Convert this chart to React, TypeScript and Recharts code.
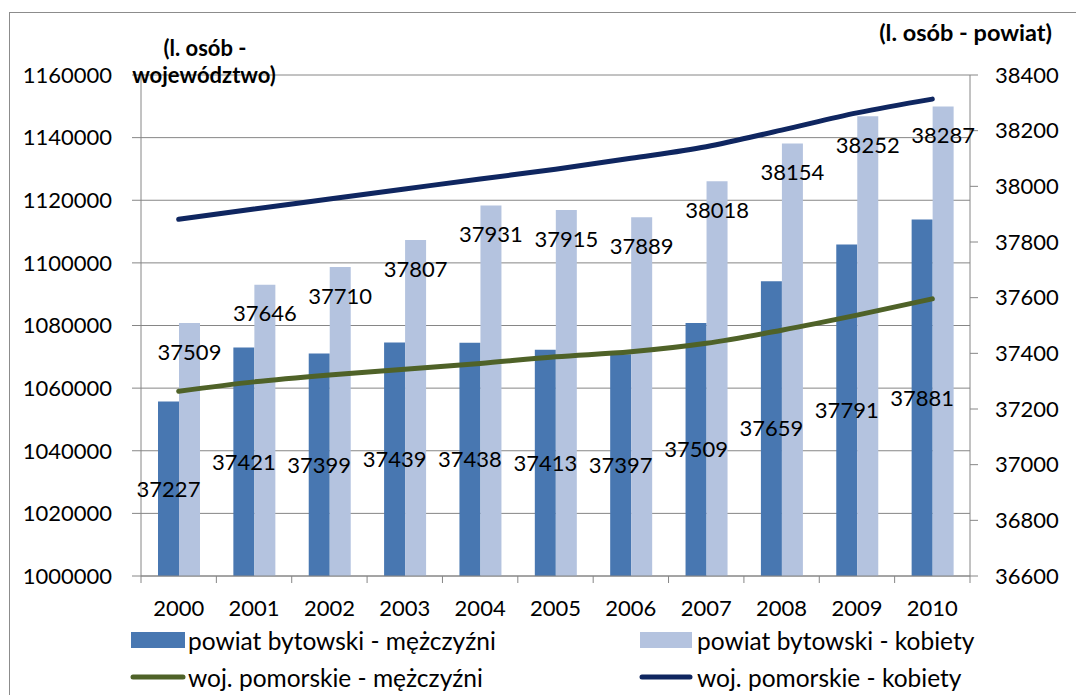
import React from "react";
import {
  Bar,
  CartesianGrid,
  ComposedChart,
  LabelList,
  Line,
  XAxis,
  YAxis,
} from "recharts";

const years = ["2000", "2001", "2002", "2003", "2004", "2005", "2006", "2007", "2008", "2009", "2010"];
// powiat bytowski (right axis)
const powiatMen = [37227, 37421, 37399, 37439, 37438, 37413, 37397, 37509, 37659, 37791, 37881];
const powiatWomen = [37509, 37646, 37710, 37807, 37931, 37915, 37889, 38018, 38154, 38252, 38287];
// woj. pomorskie (left axis)
const wojMen = [1059000, 1062000, 1064200, 1066000, 1067900, 1070000, 1071600, 1074300, 1078500, 1083300, 1088500];
const wojWomen = [1113900, 1117200, 1120400, 1123600, 1126800, 1129900, 1133400, 1137100, 1142400, 1147900, 1152300];

const leftTicks = [1000000, 1020000, 1040000, 1060000, 1080000, 1100000, 1120000, 1140000, 1160000];
const rightTicks = [36600, 36800, 37000, 37200, 37400, 37600, 37800, 38000, 38200, 38400];

const data = years.map((year, i) => ({
  year,
  pm: powiatMen[i],
  pk: powiatWomen[i],
  wm: wojMen[i],
  wk: wojWomen[i],
}));

const FONT = "Lato, 'Open Sans', sans-serif";
const GRID = "#868686";
const MEN_BAR = "#4877b1";
const WOMEN_BAR = "#b4c3df";
const MEN_LINE = "#4f6228";
const WOMEN_LINE = "#0f2660";

const W = 1076;
const H = 695;

const YearTick = (props: any) => {
  const { x, y, payload, index, visibleTicksCount } = props;
  const half = payload && payload.offset ? payload.offset : 37.7;
  const isLast = index === visibleTicksCount - 1;
  return (
    <g>
      <line x1={x - half} x2={x - half} y1={y} y2={y + 7} stroke={GRID} />
      {isLast && <line x1={x + half} x2={x + half} y1={y} y2={y + 7} stroke={GRID} />}
      <text x={x} y={y + 40} textAnchor="middle" fill="#000" fontSize={22} fontFamily={FONT}>
        {payload.value}
      </text>
    </g>
  );
};

export default function App() {
  return (
    <div
      style={{
        position: "fixed",
        left: 0,
        top: 0,
        width: W,
        height: H,
        overflow: "hidden",
        background: "#fff",
      }}
    >
      <div
        style={{
          position: "absolute",
          left: 9,
          top: 12,
          width: 1200,
          height: 800,
          borderLeft: "1px solid #8c8c8c",
          borderTop: "1px solid #8c8c8c",
        }}
      />
      <div style={{ position: "absolute", left: 0, top: 0 }}>
        <ComposedChart
          width={W}
          height={H}
          data={data}
          margin={{ top: 75, right: 0, left: 0, bottom: 79 }}
          barGap={0}
          barSize={21}
        >
          <CartesianGrid yAxisId="left" vertical={false} stroke={GRID} />
          <XAxis
            dataKey="year"
            height={40}
            tickSize={0}
            tickMargin={0}
            tickLine={false}
            axisLine={{ stroke: GRID }}
            tick={<YearTick />}
            interval={0}
          />
          <YAxis
            yAxisId="left"
            orientation="left"
            width={141}
            domain={[1000000, 1160000]}
            ticks={leftTicks}
            interval={0}
            tickSize={9}
            tickMargin={20}
            axisLine={{ stroke: GRID }}
            tickLine={{ stroke: GRID }}
            tick={{ fill: "#000", fontSize: 22, fontFamily: FONT }}
          />
          <YAxis
            yAxisId="right"
            orientation="right"
            width={106}
            domain={[36600, 38400]}
            ticks={rightTicks}
            interval={0}
            tickSize={8}
            tickMargin={17}
            axisLine={{ stroke: GRID }}
            tickLine={{ stroke: GRID }}
            tick={{ fill: "#000", fontSize: 22, fontFamily: FONT }}
          />
          <Bar yAxisId="right" dataKey="pm" fill={MEN_BAR} isAnimationActive={false}>
            <LabelList
              dataKey="pm"
              position="center"
              fill="#000"
              fontSize={22}
              fontFamily={FONT}
            />
          </Bar>
          <Bar yAxisId="right" dataKey="pk" fill={WOMEN_BAR} isAnimationActive={false}>
            <LabelList
              dataKey="pk"
              position="insideTop"
              offset={21}
              fill="#000"
              fontSize={22}
              fontFamily={FONT}
            />
          </Bar>
          <Line
            yAxisId="left"
            type="monotone"
            dataKey="wm"
            stroke={MEN_LINE}
            strokeWidth={5}
            strokeLinecap="round"
            dot={false}
            isAnimationActive={false}
          />
          <Line
            yAxisId="left"
            type="monotone"
            dataKey="wk"
            stroke={WOMEN_LINE}
            strokeWidth={5}
            strokeLinecap="round"
            dot={false}
            isAnimationActive={false}
          />
        </ComposedChart>
      </div>
      <svg
        width={W}
        height={H}
        style={{ position: "absolute", left: 0, top: 0, pointerEvents: "none" }}
        fontFamily={FONT}
      >
        {/* left axis title, two lines */}
        <text textAnchor="middle" fontSize={22} fontWeight="bold" fill="#000">
          <tspan x={205} y={56}>(l. osób -</tspan>
          <tspan x={204} y={83}>województwo)</tspan>
        </text>
        <text x={1052} y={41} textAnchor="end" fontSize={23.5} fontWeight="bold" fill="#000">
          (l. osób - powiat)
        </text>

        <rect x={131} y={632} width={54} height={16} fill={MEN_BAR} />
        <text x={188} y={650} fontSize={24.5} fill="#000">powiat bytowski - mężczyźni</text>
        <rect x={640} y={632} width={52} height={16} fill={WOMEN_BAR} />
        <text x={697} y={650} fontSize={24.5} fill="#000">powiat bytowski - kobiety</text>

        <line x1={133} x2={183} y1={677} y2={677} stroke={MEN_LINE} strokeWidth={5} strokeLinecap="round" />
        <text x={188} y={687} fontSize={24.5} fill="#000">woj. pomorskie - mężczyźni</text>
        <line x1={642} x2={690} y1={677} y2={677} stroke={WOMEN_LINE} strokeWidth={5} strokeLinecap="round" />
        <text x={697} y={687} fontSize={24.5} fill="#000">woj. pomorskie - kobiety</text>
      </svg>
    </div>
  );
}
